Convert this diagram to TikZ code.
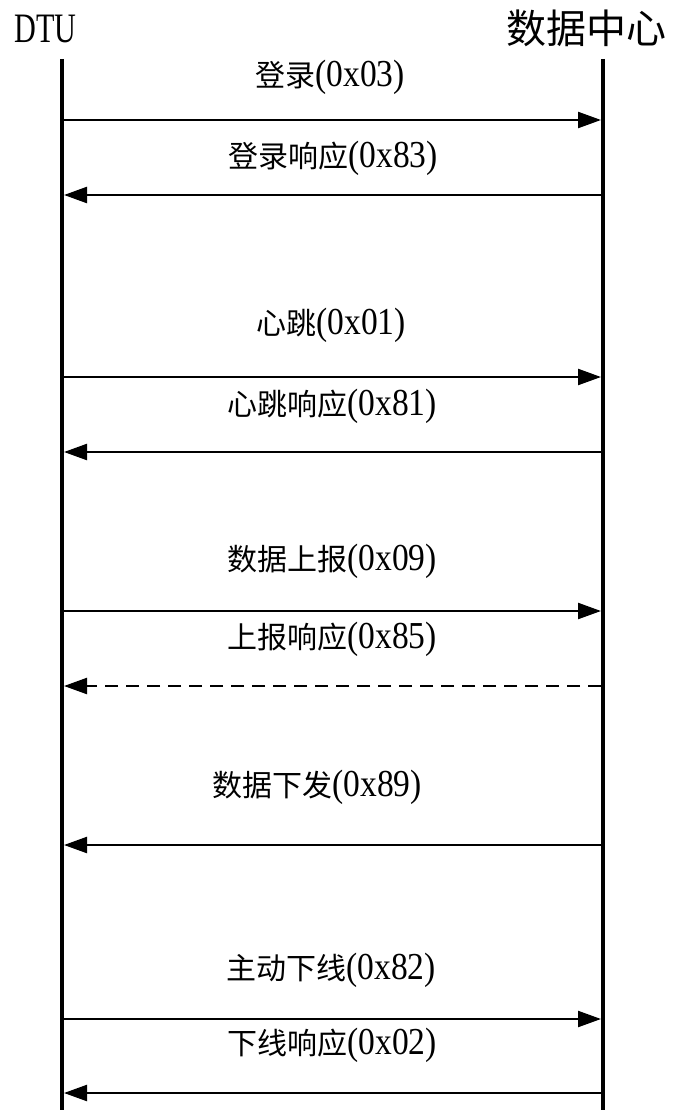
\documentclass[tikz,border=0pt]{standalone}
\usepackage{fontspec}
\usetikzlibrary{arrows.meta,positioning}
\newfontfamily\cjk{Noto Sans CJK SC}
\newfontfamily\lat[FakeStretch=0.88,Scale=1.27]{Liberation Serif}
\newfontfamily\latHead[FakeStretch=0.72,Scale=1.27]{Liberation Serif}
\newcommand\msgtxt[2]{{\cjk #1}{\lat(#2)}}
\tikzset{
  life/.style={line width=4.5pt},
  msg/.style={line width=2.3pt,-{Triangle[length=23pt,width=16pt]}},
  back/.style={msg,dash pattern=on 13pt off 8pt},
  lbl/.style={inner sep=0pt,font=\fontsize{30}{30}\selectfont},
  head/.style={inner sep=0pt}
}

\begin{document}
\begin{tikzpicture}[x=1pt,y=-1pt]
  \useasboundingbox (0,0) rectangle (675,1110);

  % the two parties
  \node[head,font=\fontsize{33}{33}\selectfont\latHead] (dtuHead) at (45.5,29) {DTU};
  \node[head,font=\fontsize{40}{40}\selectfont\cjk] (centerHead) at (586,28.5) {数据中心};

  \coordinate (dtuTop) at (62,59);
  \coordinate (dtuBot) at (62,1110);
  \coordinate (centerTop) at (603,59);
  \coordinate (centerBot) at (603,1110);
  \draw[life] (dtuTop) -- (dtuBot);
  \draw[life] (centerTop) -- (centerBot);

  % message ends on both lifelines
  \foreach \n/\y in {a/120,b/195,c/377,d/452,e/611,f/686,g/845,h/1019,i/1093}{
    \coordinate (d\n) at (64,\y);
    \coordinate (c\n) at (601,\y);
  }

  \node[lbl] (la) at (330,77) {\msgtxt{登录}{0x03}};
  \draw[msg] (da) -- (ca);
  \node[lbl] (lb) at (333,158) {\msgtxt{登录响应}{0x83}};
  \draw[msg] (cb) -- (db);

  \node[lbl] (lc) at (331,325) {\msgtxt{心跳}{0x01}};
  \draw[msg] (dc) -- (cc);
  \node[lbl] (ld) at (332,406) {\msgtxt{心跳响应}{0x81}};
  \draw[msg] (cd) -- (dd);

  \node[lbl] (le) at (332,561) {\msgtxt{数据上报}{0x09}};
  \draw[msg] (de) -- (ce);
  \node[lbl] (lf) at (332,639) {\msgtxt{上报响应}{0x85}};
  \draw[back] (cf) -- (df);

  \node[lbl] (lg) at (317,787) {\msgtxt{数据下发}{0x89}};
  \draw[msg] (cg) -- (dg);

  \node[lbl] (lh) at (331,970) {\msgtxt{主动下线}{0x82}};
  \draw[msg] (dh) -- (ch);
  \node[lbl] (li) at (332,1045) {\msgtxt{下线响应}{0x02}};
  \draw[msg] (ci) -- (di);
\end{tikzpicture}
\end{document}
